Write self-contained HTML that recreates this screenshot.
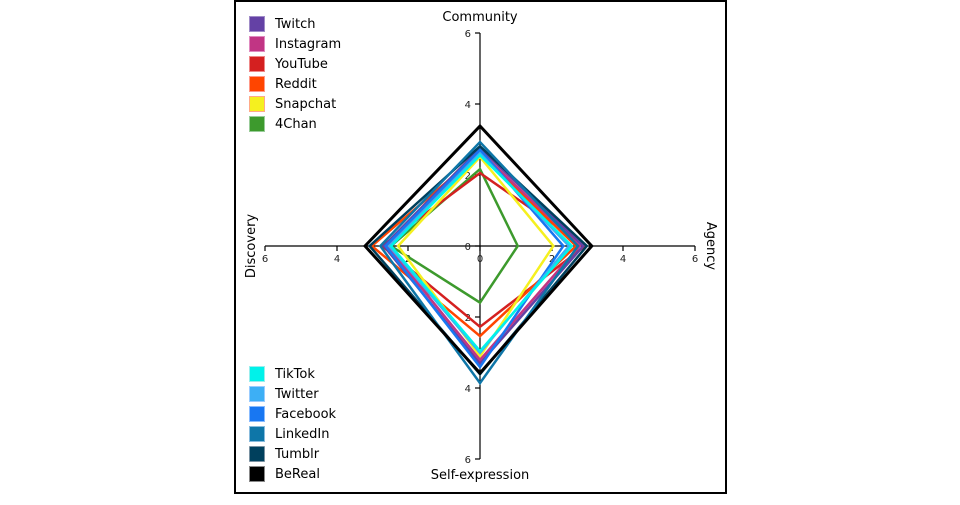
<!DOCTYPE html>
<html><head><meta charset="utf-8"><style>
body{margin:0;background:#fff;width:960px;height:500px;overflow:hidden}
svg{font-family:"DejaVu Sans","Liberation Sans",sans-serif}
</style></head><body>
<svg width="960" height="500" xmlns="http://www.w3.org/2000/svg">
<rect x="235" y="1" width="491" height="492" fill="none" stroke="#000" stroke-width="2"/>
<g stroke="#000" stroke-width="1.2">
<line x1="265" y1="246" x2="695" y2="246"/>
<line x1="480" y1="33" x2="480" y2="459"/>
<line x1="475" y1="33" x2="480" y2="33"/><line x1="475" y1="104" x2="480" y2="104"/><line x1="475" y1="175" x2="480" y2="175"/><line x1="475" y1="246" x2="480" y2="246"/>
<line x1="475" y1="317" x2="480" y2="317"/><line x1="475" y1="388" x2="480" y2="388"/><line x1="475" y1="459" x2="480" y2="459"/>
<line x1="265" y1="246" x2="265" y2="251"/><line x1="337" y1="246" x2="337" y2="251"/><line x1="408" y1="246" x2="408" y2="251"/><line x1="480" y1="246" x2="480" y2="251"/>
<line x1="552" y1="246" x2="552" y2="251"/><line x1="623" y1="246" x2="623" y2="251"/><line x1="695" y1="246" x2="695" y2="251"/>
</g>
<g font-size="10" fill="#222" text-anchor="end">
<text x="471" y="37">6</text><text x="471" y="108">4</text><text x="471" y="179">2</text><text x="471" y="250">0</text>
<text x="471" y="321">2</text><text x="471" y="392">4</text><text x="471" y="463">6</text>
</g>
<g font-size="10" fill="#222" text-anchor="middle">
<text x="265" y="262">6</text><text x="337" y="262">4</text><text x="408" y="262">2</text><text x="480" y="262">0</text>
<text x="552" y="262">2</text><text x="623" y="262">4</text><text x="695" y="262">6</text>
</g>
<g font-size="13" fill="#000" text-anchor="middle">
<text x="480" y="21">Community</text>
<text x="480" y="479">Self-expression</text>
<text transform="translate(255,246) rotate(-90)">Discovery</text>
<text transform="translate(707,246) rotate(90)">Agency</text>
</g>
<g transform="translate(480,246) scale(35.6)" fill="none" stroke-width="2.5" stroke-linejoin="miter">
<polygon vector-effect="non-scaling-stroke" stroke="#3d9a2d" points="0,-2.16 1.06,0 0,1.59 -2.5,0"/>
<polygon vector-effect="non-scaling-stroke" stroke="#d42020" points="0,-2.05 2.95,0 0,2.27 -2.75,0"/>
<polygon vector-effect="non-scaling-stroke" stroke="#ff4500" points="0,-2.6 2.7,0 0,2.53 -3.04,0"/>
<polygon vector-effect="non-scaling-stroke" stroke="#f5f01f" points="0,-2.5 2.06,0 0,3.1 -2.3,0"/>
<polygon vector-effect="non-scaling-stroke" stroke="#6441a5" points="0,-2.75 2.9,0 0,3.3 -2.7,0"/>
<polygon vector-effect="non-scaling-stroke" stroke="#c13584" points="0,-2.65 2.8,0 0,3.2 -2.6,0"/>
<polygon vector-effect="non-scaling-stroke" stroke="#1877f2" points="0,-2.7 2.34,0 0,3.4 -2.65,0"/>
<polygon vector-effect="non-scaling-stroke" stroke="#3daff5" points="0,-2.6 2.5,0 0,3.0 -2.55,0"/>
<polygon vector-effect="non-scaling-stroke" stroke="#00f2ea" points="0,-2.55 2.58,0 0,2.95 -2.5,0"/>
<polygon vector-effect="non-scaling-stroke" stroke="#00405d" points="0,-2.8 3.0,0 0,3.6 -3.1,0"/>
<polygon vector-effect="non-scaling-stroke" stroke="#0e76a8" points="0,-2.92 2.75,0 0,3.85 -2.8,0"/>
<polygon vector-effect="non-scaling-stroke" stroke="#000" stroke-width="3" points="0,-3.37 3.14,0 0,3.57 -3.23,0"/>
</g>
<g font-size="13" fill="#000" stroke-width="1">
<rect x="249.5" y="16.5" width="15" height="15" fill="#6441a5" stroke="#a08cc8"/><text x="275" y="28">Twitch</text>
<rect x="249.5" y="36.5" width="15" height="15" fill="#c13584" stroke="#e08ac0"/><text x="275" y="48">Instagram</text>
<rect x="249.5" y="56.5" width="15" height="15" fill="#d42020" stroke="#e88"/><text x="275" y="68">YouTube</text>
<rect x="249.5" y="76.5" width="15" height="15" fill="#ff4500" stroke="#f98"/><text x="275" y="88">Reddit</text>
<rect x="249.5" y="96.5" width="15" height="15" fill="#f5f01f" stroke="#fa8"/><text x="275" y="108">Snapchat</text>
<rect x="249.5" y="116.5" width="15" height="15" fill="#3d9a2d" stroke="#9c9"/><text x="275" y="128">4Chan</text>
<rect x="249.5" y="366.5" width="15" height="15" fill="#00f2ea" stroke="#9ee"/><text x="275" y="378">TikTok</text>
<rect x="249.5" y="386.5" width="15" height="15" fill="#3daff5" stroke="#9cf"/><text x="275" y="398">Twitter</text>
<rect x="249.5" y="406.5" width="15" height="15" fill="#1877f2" stroke="#8bf"/><text x="275" y="418">Facebook</text>
<rect x="249.5" y="426.5" width="15" height="15" fill="#0e76a8" stroke="#8bd"/><text x="275" y="438">LinkedIn</text>
<rect x="249.5" y="446.5" width="15" height="15" fill="#00405d" stroke="#7899"/><text x="275" y="458">Tumblr</text>
<rect x="249.5" y="466.5" width="15" height="15" fill="#000" stroke="#888"/><text x="275" y="478">BeReal</text>
</g>
</svg>
</body></html>
